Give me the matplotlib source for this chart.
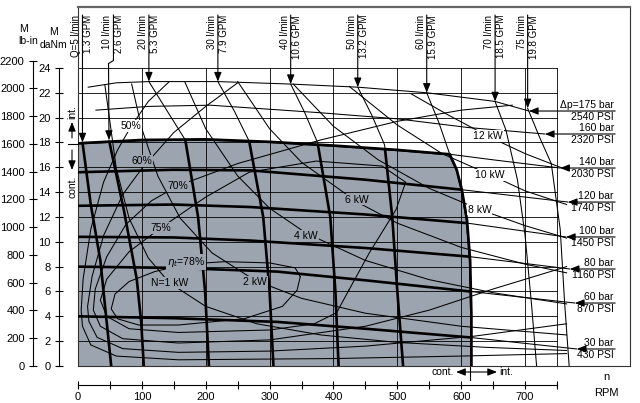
import matplotlib
matplotlib.use("Agg")
import matplotlib.pyplot as plt

plt.rcParams['font.family'] = ['Liberation Sans', 'DejaVu Sans']

# scale of the original drawing (pixels per unit)
PX_RPM = 0.6387
PX_DANM = 12.42
PX_LBIN = 0.13877

GRAY = '#9ca4af'

# ---------------- data: speed n [RPM], torque M [daNm] ----------------
grid_rpm = [100, 200, 300, 400, 500, 600, 700, 750]
grid_danm = [2, 4, 6, 8, 10, 12, 14, 16, 18, 20, 22, 24]

pressure_bar = ['\u0394p=175 bar', '160 bar', '140 bar', '120 bar', '100 bar', '80 bar', '60 bar', '30 bar']
pressure_psi = ['2540 PSI', '2320 PSI', '2030 PSI', '1740 PSI', '1450 PSI', '1160 PSI', '870 PSI', '430 PSI']

p175_n = [16, 60, 111, 219, 333, 438, 546, 653, 706]
p175_m = [22.45, 22.8, 22.9, 22.9, 22.7, 22.45, 22.0, 21.3, 20.53]
p160_n = [28, 110, 207, 377, 500, 611, 731]
p160_m = [20.6, 20.9, 21.0, 20.4, 19.9, 19.2, 18.68]
p140_n = [6, 100, 200, 300, 400, 500, 582, 650, 755]
p140_m = [17.95, 18.2, 18.25, 18.05, 17.75, 17.4, 17.05, 16.6, 15.94]
p120_n = [0, 150, 270, 450, 600, 767]
p120_m = [15.6, 15.8, 15.75, 15.0, 14.2, 13.2]
p100_n = [0, 150, 270, 450, 610, 764]
p100_m = [12.9, 13.0, 12.8, 12.2, 11.5, 10.39]
p80_n = [0, 150, 270, 450, 614, 770]
p80_m = [10.4, 10.35, 10.1, 9.5, 8.8, 7.81]
p60_n = [0, 150, 312, 450, 614, 778]
p60_m = [8.0, 7.9, 7.6, 6.9, 6.0, 5.07]
p30_n = [0, 150, 312, 450, 614, 781]
p30_m = [4.0, 3.85, 3.55, 3.0, 2.3, 1.37]

q_lpm = ['Q=5 l/min', '10 l/min', '20 l/min', '30 l/min', '40 l/min', '50 l/min', '60 l/min', '70 l/min', '75 l/min']
q_gpm = ['1.3 GPM', '2.6 GPM', '5.3 GPM', '7.9 GPM', '10.6 GPM', '13.2 GPM', '15.9 GPM', '18.5 GPM', '19.8 GPM']

q5_n = [7, 20, 35, 44, 52]
q5_m = [18.0, 13.0, 8.5, 4.0, 0]
q10_n = [48.5, 72, 92, 99, 103]
q10_m = [18.2, 12.5, 7.0, 3.5, 0]
q20_n = [111, 140, 168, 188, 199, 205]
q20_m = [22.9, 20.5, 18.2, 12.0, 6.0, 0]
q30_n = [219, 245, 268, 290, 300, 306]
q30_m = [22.9, 20.5, 18.1, 12.0, 6.0, 0]
q40_n = [333, 355, 375, 395, 403, 408]
q40_m = [22.7, 20.4, 18.0, 12.0, 6.0, 0]
q50_n = [438, 460, 480, 492, 500, 509]
q50_m = [22.45, 20.2, 17.8, 12.0, 6.0, 0]
q60_n = [546, 565, 582, 593, 601, 609, 614, 616, 616]
q60_m = [22.0, 19.6, 17.05, 15.8, 14.2, 11.8, 8.5, 4.0, 0]
q70_n = [653, 670, 688, 700, 710, 718]
q70_m = [21.3, 19.0, 15.0, 10.5, 5.0, 0]
q75_n = [704, 722, 741, 755, 762, 769]
q75_m = [20.75, 18.5, 16.3, 11.0, 5.0, 0]

# power N [kW]
kw1_n = [42, 60, 80, 110, 143, 200, 280, 380, 500, 640, 765]
kw1_m = [22.65, 15.9, 11.9, 8.7, 6.7, 4.8, 3.4, 2.5, 1.9, 1.5, 1.25]
kw2_n = [84, 100, 125, 160, 210, 277, 350, 450, 600, 765]
kw2_m = [22.7, 19.1, 15.3, 11.9, 9.1, 6.9, 5.45, 4.25, 3.2, 2.5]
kw4_n = [167, 200, 250, 300, 357, 450, 550, 650, 765]
kw4_m = [22.9, 19.1, 15.3, 12.7, 10.7, 8.5, 6.95, 5.9, 5.0]
kw6_n = [250, 300, 350, 437, 500, 600, 700, 765]
kw6_m = [22.9, 19.1, 16.4, 13.2, 11.5, 9.55, 8.2, 7.5]
kw8_n = [337, 400, 470, 550, 629, 700, 765]
kw8_m = [22.7, 19.3, 16.6, 14.3, 12.6, 11.3, 10.3]
kw10_n = [425, 500, 570, 645, 700, 765]
kw10_m = [22.5, 19.4, 17.1, 15.4, 14.1, 13.0]
kw12_n = [522, 580, 642, 700, 760]
kw12_m = [21.9, 20.2, 18.5, 17.1, 15.9]

power_text = ['N=1 kW', '2 kW', '4 kW', '6 kW', '8 kW', '10 kW', '12 kW']
power_text_n = [144, 277, 357, 437, 629, 645, 642]
power_text_m = [6.7, 6.8, 10.5, 13.4, 12.6, 15.4, 18.5]

# total efficiency
eta50_n = [765, 600, 400, 157, 60, 20, 7, 5, 8, 20, 40, 62, 82, 110, 143]
eta50_m = [1.0, 0.8, 0.6, 0.5, 0.8, 1.7, 3.2, 4.5, 7.0, 11.0, 14.8, 17.4, 19.2, 21.3, 22.9]
eta60_n = [765, 620, 450, 300, 157, 70, 30, 17, 15, 22, 40, 70, 100, 150, 200, 250]
eta60_m = [3.4, 2.4, 1.6, 1.2, 1.1, 1.4, 2.3, 3.6, 4.8, 7.2, 10.5, 13.8, 15.9, 18.8, 20.9, 22.8]
eta70_n = [765, 650, 550, 450, 300, 157, 70, 35, 24, 27, 45, 75, 115, 156, 250, 380, 500, 600, 680]
eta70_m = [8.0, 6.2, 4.5, 3.2, 2.1, 1.85, 2.2, 3.2, 4.5, 6.2, 8.8, 11.4, 13.3, 14.5, 16.3, 18.2, 19.7, 20.6, 21.0]
eta75_n = [424, 405, 370, 300, 157, 80, 45, 35, 45, 80, 129, 200, 268, 373, 476, 513, 498, 456, 424]
eta75_m = [6.1, 4.3, 3.4, 2.9, 2.7, 3.0, 4.0, 5.3, 7.0, 9.2, 11.1, 13.6, 15.6, 16.5, 16.1, 14.8, 12.6, 9.1, 6.1]
eta78_n = [348, 343, 320, 260, 157, 95, 62, 52, 58, 80, 120, 169, 230, 300, 340, 348]
eta78_m = [7.2, 6.1, 4.8, 3.8, 3.3, 3.3, 3.8, 4.6, 5.8, 6.8, 7.6, 8.2, 8.4, 8.3, 7.9, 7.2]

eta_text = ['50%', '60%', '70%', '75%', r'$\eta_t$=78%']
eta_text_n = [83, 100, 157, 130, 169]
eta_text_m = [19.3, 16.5, 14.5, 11.1, 8.4]

lbin_ticks = list(range(0, 2201, 200))
danm_ticks = list(range(0, 25, 2))
rpm_major = list(range(0, 701, 100))
rpm_minor = list(range(50, 751, 100))

# ---------------- figure ----------------
fig = plt.figure(figsize=(6.4, 4.03), dpi=100)
rect = [78 / 640, 37 / 403, 552 / 640, 359 / 403]
ax = fig.add_axes(rect)
xmax = 552 / PX_RPM
ymax = 359 / PX_DANM
ax.set_xlim(0, xmax)
ax.set_ylim(0, ymax)
ax.set_xticks([])
ax.set_yticks([])
for s in ax.spines.values():
    s.set_color('#333333')
    s.set_linewidth(0.8)
ax.spines['top'].set_color('#666666')
ax.spines['top'].set_linewidth(1.6)

# continuous operating region: 140 bar up to the corner, then 60 l/min down
gx = [0, 0] + p140_n[:7] + q60_n[3:]
gy = [0, 17.9] + p140_m[:7] + q60_m[3:]
gray_patch = ax.fill(gx, gy, color=GRAY, lw=0, zorder=1)[0]

for n in grid_rpm:
    ax.plot([n, n], [0, 24], color='k', lw=0.6, zorder=2)
for m in grid_danm:
    ax.plot([0, 750], [m, m], color='k', lw=0.6, zorder=2)


def curve(n, m, thick=False):
    ax.plot(n, m, color='k', lw=0.75, zorder=3, solid_joinstyle='round')
    if thick:
        ln, = ax.plot(n, m, color='k', lw=1.9, zorder=4, solid_joinstyle='round')
        ln.set_clip_path(gray_patch)


arrow_kw = dict(arrowstyle='-|>,head_length=0.55,head_width=0.22', color='k',
                lw=0.8, shrinkA=0, shrinkB=0, mutation_scale=10)

# pressure curves
p_curves = [(p175_n, p175_m), (p160_n, p160_m), (p140_n, p140_m), (p120_n, p120_m),
            (p100_n, p100_m), (p80_n, p80_m), (p60_n, p60_m), (p30_n, p30_m)]
x_lab = 839
for i, (n, m) in enumerate(p_curves):
    curve(n, m, thick=i >= 2)
    ax.annotate('', xy=(n[-1], m[-1]), xytext=(x_lab + 2, m[-1]),
                arrowprops=arrow_kw, zorder=5, annotation_clip=False)
    ax.text(x_lab, m[-1] + 0.1, pressure_bar[i], ha='right', va='bottom', fontsize=7.5)
    ax.text(x_lab, m[-1] - 0.1, pressure_psi[i], ha='right', va='top', fontsize=7.5)

# flow curves
q_curves = [(q5_n, q5_m), (q10_n, q10_m), (q20_n, q20_m), (q30_n, q30_m), (q40_n, q40_m),
            (q50_n, q50_m), (q60_n, q60_m), (q70_n, q70_m), (q75_n, q75_m)]
y_top = (366 - 15) / PX_DANM
for i, (n, m) in enumerate(q_curves):
    curve(n, m, thick=i <= 6)
    if i == 1:
        # kinked leader of 10 l/min
        ax.plot([55.5, 55.5, 47.8], [y_top, 24.6, 24.35], color='k', lw=0.8, zorder=5)
        ax.annotate('', xy=(n[0], m[0]), xytext=(47.8, 24.35), arrowprops=arrow_kw, zorder=5)
        xl = 55.5
    else:
        ax.annotate('', xy=(n[0], m[0]), xytext=(n[0], y_top), arrowprops=arrow_kw, zorder=5)
        xl = n[0]
    ax.text(xl - 9.4, y_top, q_lpm[i], rotation=90, ha='center', va='top', fontsize=7)
    ax.text(xl + 9.4, y_top, q_gpm[i], rotation=90, ha='center', va='top', fontsize=7)

# boundary of the continuous region
ax.plot(gx[1:], gy[1:], color='k', lw=1.9, zorder=4, solid_joinstyle='round')

# power and efficiency curves
for n, m in [(kw1_n, kw1_m), (kw2_n, kw2_m), (kw4_n, kw4_m), (kw6_n, kw6_m),
             (kw8_n, kw8_m), (kw10_n, kw10_m), (kw12_n, kw12_m)]:
    curve(n, m)
for n, m in [(eta50_n, eta50_m), (eta60_n, eta60_m), (eta70_n, eta70_m),
             (eta75_n, eta75_m), (eta78_n, eta78_m)]:
    curve(n, m)

for i, t in enumerate(power_text):
    bg = GRAY if i <= 3 else 'white'
    ax.text(power_text_n[i], power_text_m[i], t, ha='center', va='center', fontsize=7.5, zorder=6,
            bbox=dict(boxstyle='square,pad=0.08', fc=bg, ec='none'))
for i, t in enumerate(eta_text):
    bg = 'white' if i == 0 else GRAY
    ax.text(eta_text_n[i], eta_text_m[i], t, ha='center', va='center', fontsize=7.5, zorder=6,
            bbox=dict(boxstyle='square,pad=0.08', fc=bg, ec='none'))

# cont. / int. markers
xm = (72 - 78) / PX_RPM
ax.text(xm, 20.45, 'int.', rotation=90, ha='center', va='center', fontsize=7.5, clip_on=False)
ax.annotate('', xy=(xm, 19.65), xytext=(xm, 18.36), arrowprops=arrow_kw, annotation_clip=False)
ax.plot([(68 - 78) / PX_RPM, 0], [17.85, 17.85], color='k', lw=0.8, clip_on=False)
ax.annotate('', xy=(xm, 15.78), xytext=(xm, 17.39), arrowprops=arrow_kw, annotation_clip=False)
ax.text(xm, 14.4, 'cont.', rotation=90, ha='center', va='center', fontsize=7.5, clip_on=False)

yb = -6 / PX_DANM
ax.plot([614, 614], [0, -14 / PX_DANM], color='k', lw=0.8, clip_on=False)
ax.annotate('', xy=(592, yb), xytext=(614, yb), arrowprops=arrow_kw, annotation_clip=False)
ax.annotate('', xy=(656, yb), xytext=(614, yb), arrowprops=arrow_kw, annotation_clip=False)
ax.text(588, yb, 'cont.', ha='right', va='center', fontsize=7.5, clip_on=False)
ax.text(660, yb, 'int.', ha='left', va='center', fontsize=7.5, clip_on=False)

# outer torque scales
def side_axis(outward_px, top, ticks):
    a = fig.add_axes(rect)
    a.patch.set_alpha(0)
    a.set_ylim(0, top)
    for k in ['top', 'right', 'bottom']:
        a.spines[k].set_visible(False)
    a.spines['left'].set_position(('outward', outward_px * 0.72))
    a.spines['left'].set_bounds(ticks[0], ticks[-1])
    a.spines['left'].set_linewidth(0.8)
    a.set_xticks([])
    a.set_yticks(ticks)
    a.tick_params(axis='y', direction='inout', length=6, width=0.8, labelsize=8, pad=3)
    return a

side_axis(19, ymax, danm_ticks)
side_axis(45, 359 / PX_LBIN, lbin_ticks)

ax_n = fig.add_axes(rect)
ax_n.patch.set_alpha(0)
ax_n.set_xlim(0, xmax)
for k in ['top', 'right', 'left']:
    ax_n.spines[k].set_visible(False)
ax_n.spines['bottom'].set_position(('outward', 19 * 0.72))
ax_n.spines['bottom'].set_bounds(0, 750)
ax_n.spines['bottom'].set_linewidth(0.8)
ax_n.set_yticks([])
ax_n.set_xticks(rpm_major)
ax_n.set_xticks(rpm_minor, minor=True)
ax_n.tick_params(axis='x', which='both', direction='inout', length=6, width=0.8, labelsize=8, pad=2)

fig.text(23 / 640, 1 - 29 / 403, 'M', ha='center', va='center', fontsize=7.5)
fig.text(28 / 640, 1 - 41 / 403, 'lb-in', ha='center', va='center', fontsize=7.5)
fig.text(53 / 640, 1 - 32 / 403, 'M', ha='center', va='center', fontsize=7.5)
fig.text(53 / 640, 1 - 45 / 403, 'daNm', ha='center', va='center', fontsize=7.5)
fig.text(606 / 640, 1 - 377 / 403, 'n', ha='center', va='center', fontsize=8)
fig.text(606 / 640, 1 - 393 / 403, 'RPM', ha='center', va='center', fontsize=8)

fig.savefig('out.png', dpi=100)
